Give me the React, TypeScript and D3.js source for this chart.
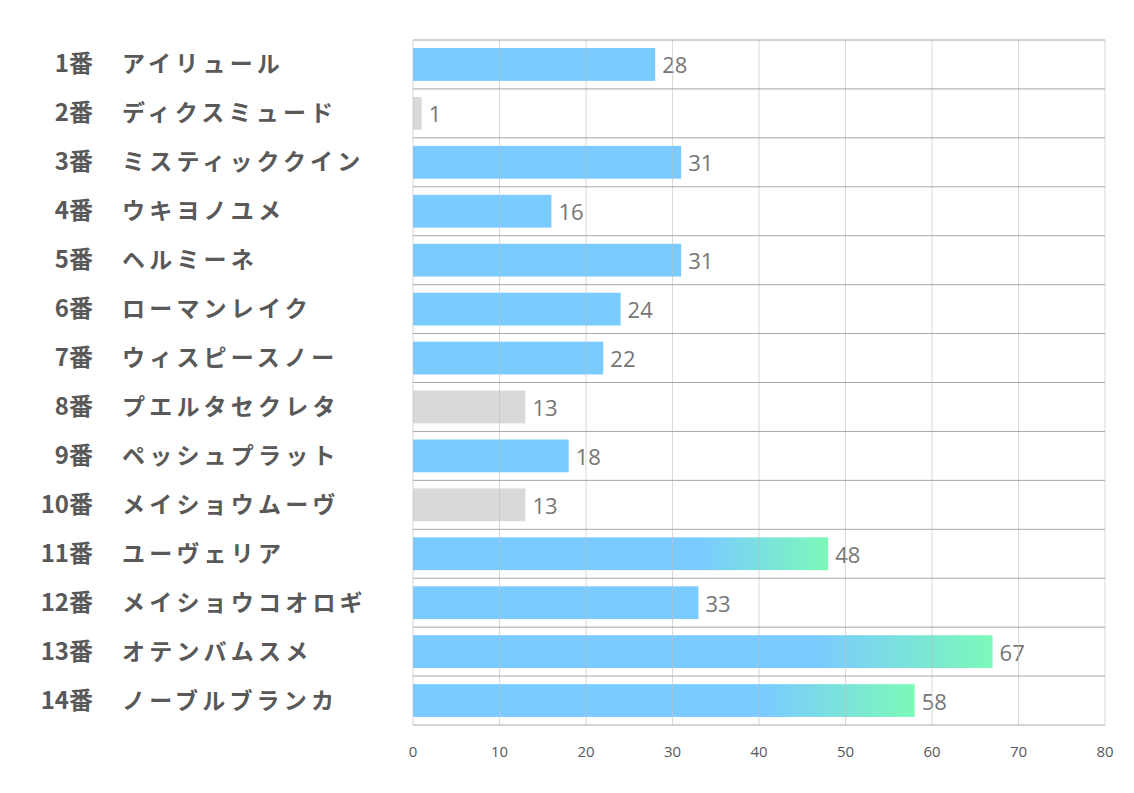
import React from "react";
import * as d3 from "d3";

const numbers = ["1番","2番","3番","4番","5番","6番","7番","8番","9番","10番","11番","12番","13番","14番"];
const names = ["アイリュール","ディクスミュード","ミスティッククイン","ウキヨノユメ","ヘルミーネ","ローマンレイク","ウィスピースノー","プエルタセクレタ","ペッシュプラット","メイショウムーヴ","ユーヴェリア","メイショウコオロギ","オテンバムスメ","ノーブルブランカ"];
const values = [28, 1, 31, 16, 31, 24, 22, 13, 18, 13, 48, 33, 67, 58];
const kinds = ["blue","gray","blue","blue","blue","blue","blue","gray","blue","gray","grad","blue","grad","grad"];
const ticks = [0, 10, 20, 30, 40, 50, 60, 70, 80];

const W = 1134, H = 793;
const left = 413, right = 1105, top = 40, bottom = 725;

export default function App() {
  const x = d3.scaleLinear().domain([0, 80]).range([left, right]);
  const y = d3.scaleBand<number>().domain(d3.range(values.length)).range([top, bottom]).paddingInner(0).paddingOuter(0);
  const bh = y.bandwidth() * 0.67;
  const jp = "'Noto Sans CJK JP', sans-serif";
  return (
    <svg width={W} height={H} style={{ position: "absolute", left: 0, top: 0, background: "#fff" }}>
      <defs>
        <linearGradient id="g" x1="0" x2="1" y1="0" y2="0">
          <stop offset="0" stopColor="#7acbff" />
          <stop offset="0.7" stopColor="#7acbff" />
          <stop offset="1" stopColor="#7cf9b9" />
        </linearGradient>
      </defs>
      {values.map((v, i) => {
        const y0 = y(i)!;
        const cy = y0 + y.bandwidth() / 2;
        const fill = kinds[i] === "gray" ? "#d9d9d9" : kinds[i] === "grad" ? "url(#g)" : "#7acbff";
        return (
          <g key={i}>
            <rect x={x(0)} y={y0 + (y.bandwidth() - bh) / 2} width={x(v) - x(0)} height={bh} fill={fill} />
            <text x={x(v) + 7} y={cy + 9} fontSize={22} fill="#767676" fontFamily="'Open Sans', sans-serif">{v}</text>
            <text x={93} y={cy + 8} textAnchor="end" fontSize={24} fontWeight="bold" fill="#595959" fontFamily={jp}>{numbers[i]}</text>
            <text x={122} y={cy + 8} fontSize={23} fontWeight="bold" fill="#595959" fontFamily={jp} letterSpacing={4.2}>{names[i]}</text>
          </g>
        );
      })}
      {ticks.map(t => (
        <g key={t}>
          <line x1={x(t)} x2={x(t)} y1={top} y2={bottom} stroke="#bfbfbf" strokeOpacity={0.6} strokeWidth={1} />
          <text x={x(t)} y={757} textAnchor="middle" fontSize={15} fill="#595959" fontFamily="'Open Sans', sans-serif">{t}</text>
        </g>
      ))}
      {d3.range(values.length + 1).map(i => {
        const yy = i === values.length ? bottom : y(i)!;
        return <line key={i} x1={left} x2={right} y1={yy} y2={yy} stroke="#a6a6a6" strokeWidth={1} />;
      })}
    </svg>
  );
}
